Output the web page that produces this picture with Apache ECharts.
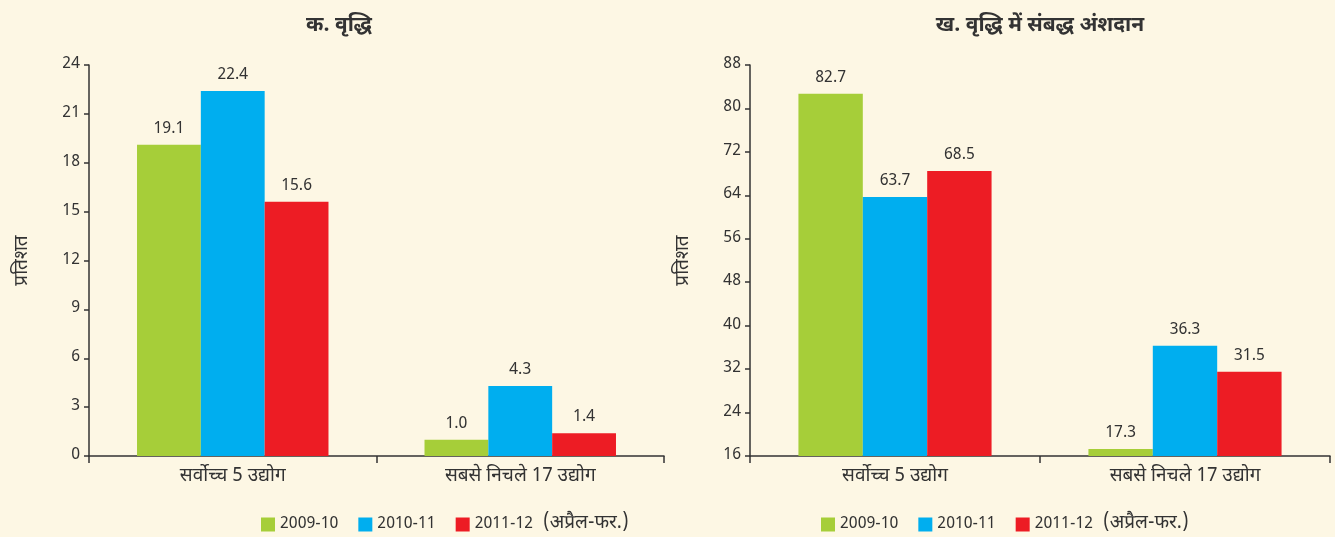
<!DOCTYPE html>
<html><head><meta charset="utf-8">
<script src="https://cdn.jsdelivr.net/npm/echarts@6/dist/echarts.min.js"></script>
<style>html,body{margin:0;padding:0;background:#fdf7e4;}#c{width:1335px;height:537px;}</style>
</head><body><div id="c"></div>
<script>
const categories = ['सर्वोच्च 5 उद्योग', 'सबसे निचले 17 उद्योग'];
const seriesNames = ['2009-10', '2010-11', '2011-12'];
const legendSuffix = '(अप्रैल-फर.)';
const titleA = 'क. वृद्धि';
const titleB = 'ख. वृद्धि में संबद्ध अंशदान';
const yName = 'प्रतिशत';
const growth2009 = [19.1, 1.0];
const growth2010 = [22.4, 4.3];
const growth2011 = [15.6, 1.4];
const contrib2009 = [82.7, 17.3];
const contrib2010 = [63.7, 36.3];
const contrib2011 = [68.5, 31.5];
const colors = ['#a6ce39', '#00aeef', '#ed1c24'];

const FONT = '"Noto Sans Devanagari","Noto Sans","DejaVu Sans",sans-serif';
const txt = '#333';
const chart = echarts.init(document.getElementById('c'));

function yAxis(grid, min, max, interval) {
  return {
    type: 'value', gridIndex: grid, min, max, interval,
    name: yName, nameLocation: 'middle', nameGap: 56, nameRotate: 90,
    nameTextStyle: {color: txt, fontSize: 19, fontFamily: FONT},
    axisLine: {show: true, lineStyle: {color: txt, width: 1.5}},
    axisTick: {show: true, length: 5, lineStyle: {color: txt, width: 1.5}},
    axisLabel: {color: txt, fontSize: 16, fontFamily: FONT, margin: 9},
    splitLine: {show: false}
  };
}
function xAxis(grid) {
  return {
    type: 'category', gridIndex: grid, data: categories,
    axisLine: {show: true, lineStyle: {color: txt, width: 1.5}},
    axisTick: {show: true, length: 7, lineStyle: {color: txt, width: 1.5}},
    axisLabel: {color: txt, fontSize: 19, fontFamily: FONT, margin: 12}
  };
}
function bar(name, data, grid, i) {
  return {
    type: 'bar', name, data, xAxisIndex: grid, yAxisIndex: grid,
    barWidth: '22.2%', barGap: '0%',
    itemStyle: {color: colors[i]},
    label: {show: true, position: 'top', distance: 7, color: txt, fontSize: 16, fontFamily: FONT,
      formatter: p => p.value.toFixed(1)}
  };
}
const legendCommon = {
  data: seriesNames, icon: 'rect', itemWidth: 14, itemHeight: 14, itemGap: 20,
  textStyle: {color: txt, fontSize: 16, fontFamily: FONT,
    rich: {d: {fontSize: 19, fontFamily: FONT, color: txt, padding: [0, 0, 0, 10]}}},
  formatter: n => n === seriesNames[2] ? n + '{d|' + legendSuffix + '}' : n,
  bottom: -2
};
chart.setOption({
  backgroundColor: '#fdf7e4',
  title: [
    {text: titleA, left: 334, textAlign: 'center', top: 12, textStyle: {color: txt, fontSize: 21, fontWeight: 'bold', fontFamily: FONT}},
    {text: titleB, left: 1035, textAlign: 'center', top: 12, textStyle: {color: txt, fontSize: 21, fontWeight: 'bold', fontFamily: FONT}}
  ],
  legend: [
    Object.assign({left: 256}, legendCommon),
    Object.assign({left: 816}, legendCommon)
  ],
  grid: [
    {left: 89, right: 671, top: 65, bottom: 81},
    {left: 750, right: 5, top: 65, bottom: 81}
  ],
  xAxis: [xAxis(0), xAxis(1)],
  yAxis: [yAxis(0, 0, 24, 3), yAxis(1, 16, 88, 8)],
  series: [
    bar(seriesNames[0], growth2009, 0, 0),
    bar(seriesNames[1], growth2010, 0, 1),
    bar(seriesNames[2], growth2011, 0, 2),
    bar(seriesNames[0], contrib2009, 1, 0),
    bar(seriesNames[1], contrib2010, 1, 1),
    bar(seriesNames[2], contrib2011, 1, 2)
  ]
});
</script></body></html>
